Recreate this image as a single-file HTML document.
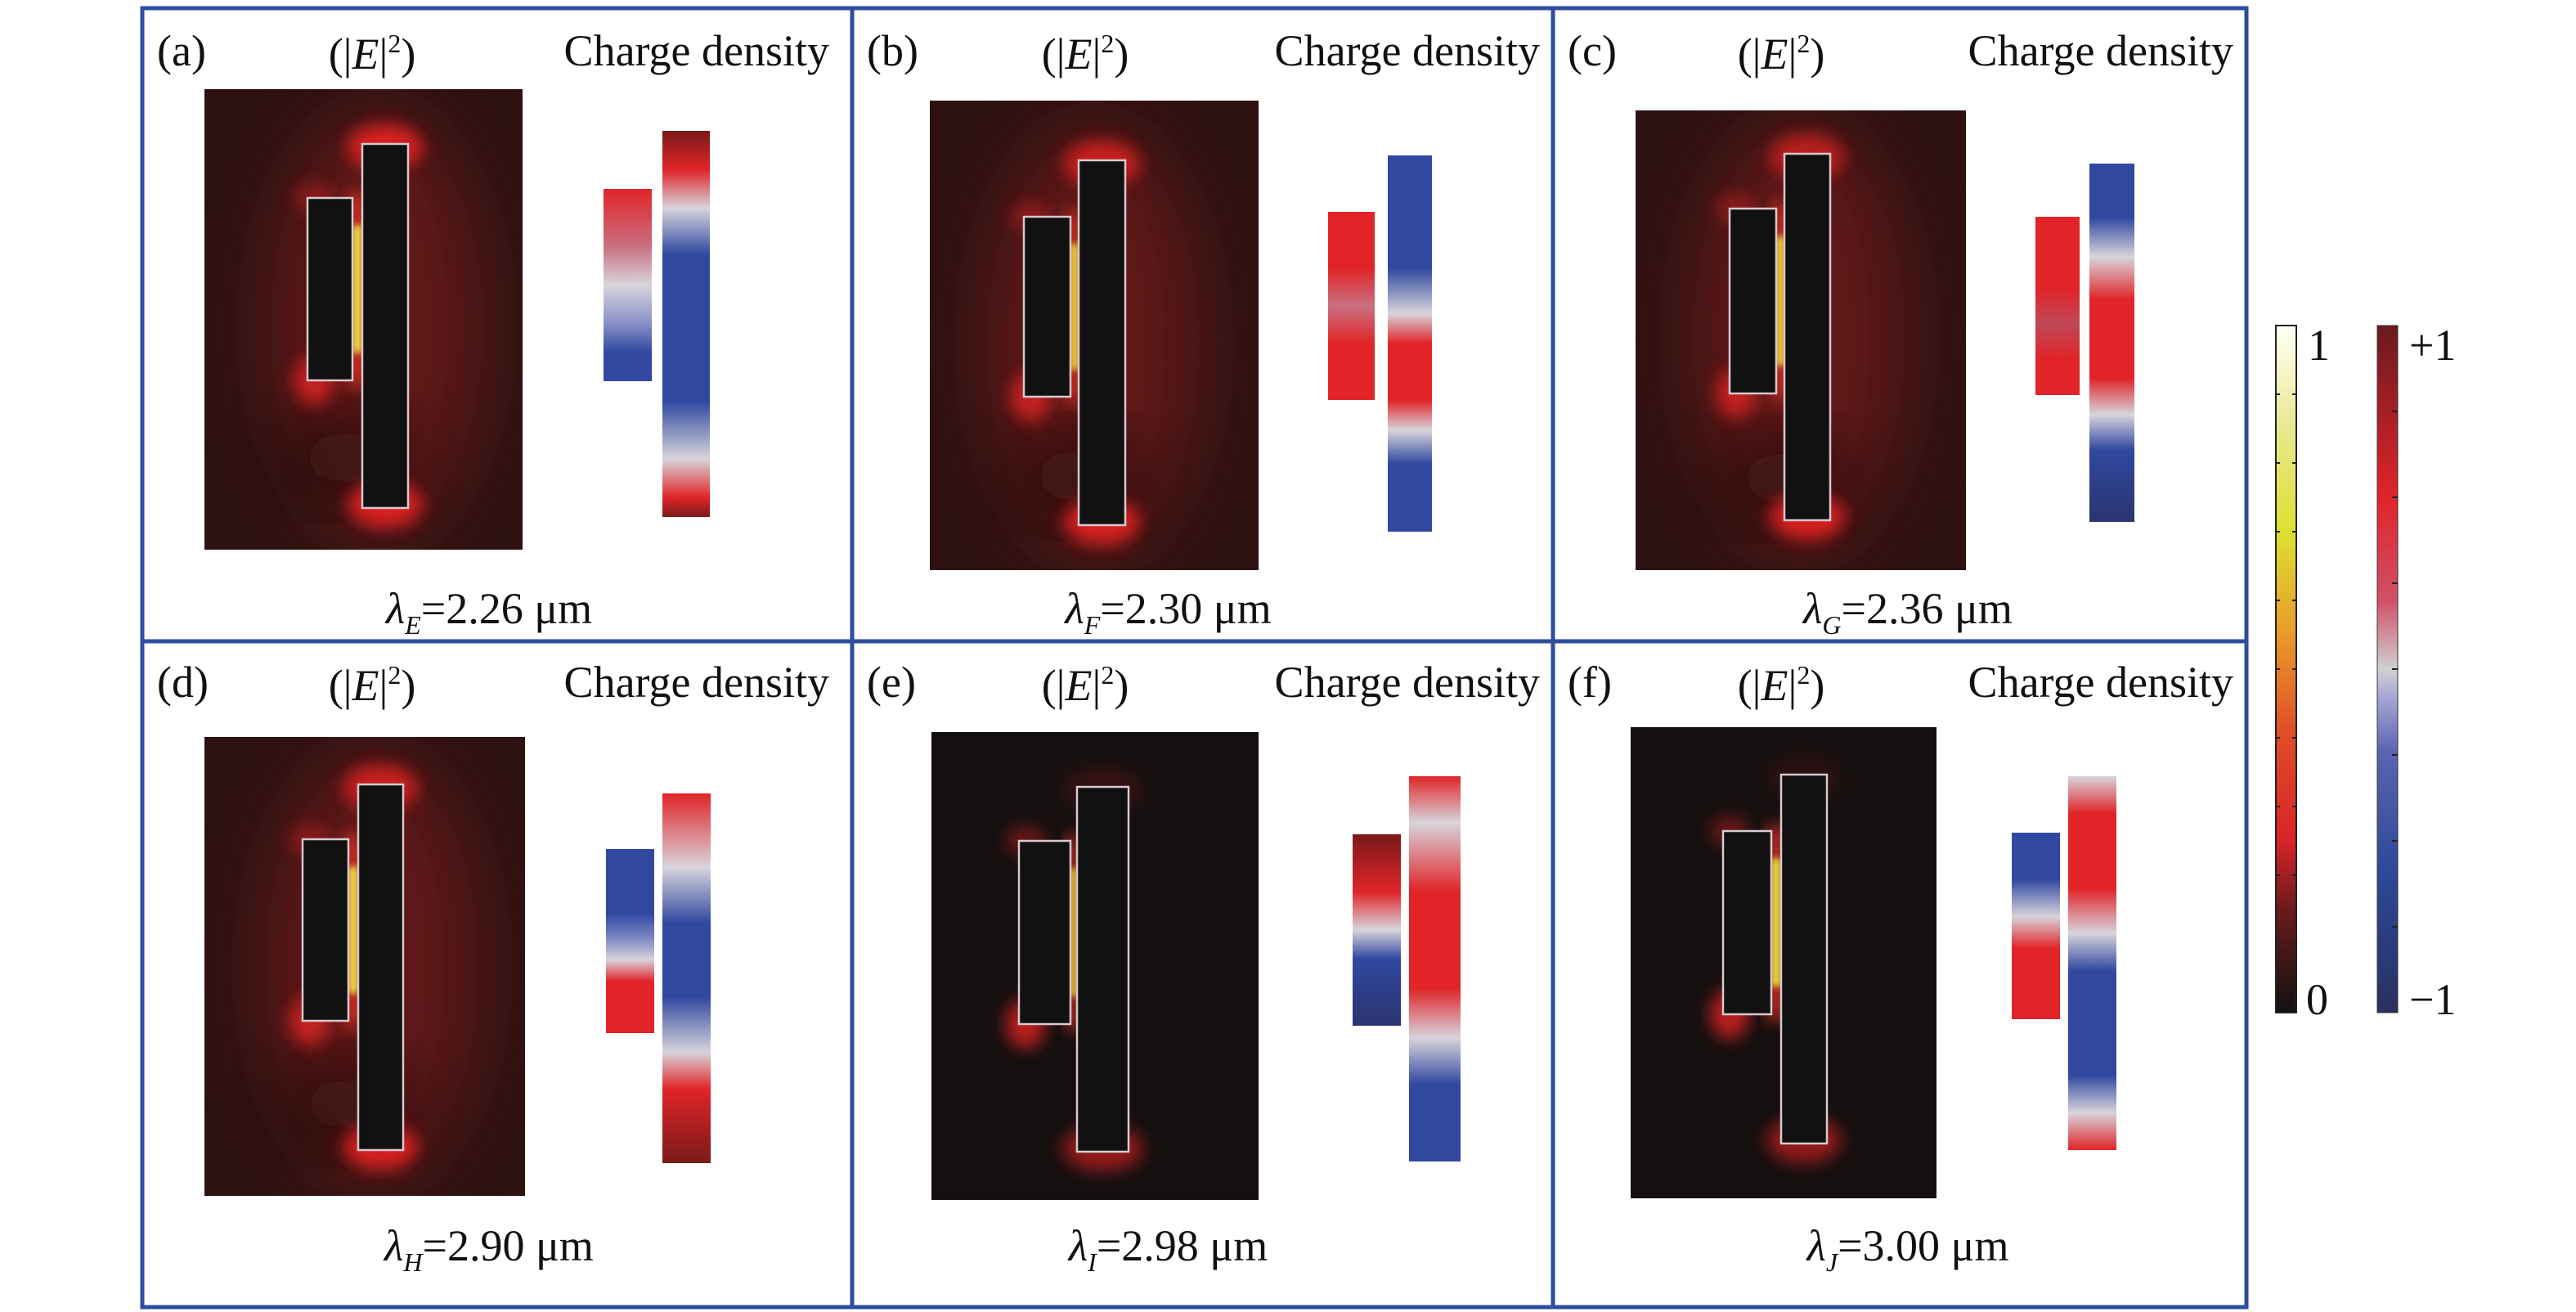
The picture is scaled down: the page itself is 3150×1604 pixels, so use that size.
<!DOCTYPE html>
<html><head><meta charset="utf-8"><style>
html,body{margin:0;padding:0;background:#fff;}
svg{display:block;font-family:"Liberation Serif",serif;}
</style></head><body>
<svg id="fig" width="3150" height="1604" viewBox="0 0 3150 1604" xmlns="http://www.w3.org/2000/svg">
<defs>
<filter id="blurS" x="-50%" y="-50%" width="200%" height="200%"><feGaussianBlur stdDeviation="10"/></filter>
<filter id="blurL" x="-50%" y="-50%" width="200%" height="200%"><feGaussianBlur stdDeviation="45"/></filter>
<filter id="blurT" x="-50%" y="-50%" width="200%" height="200%"><feGaussianBlur stdDeviation="4"/></filter>
<linearGradient id="cbHeat" x1="0" y1="1" x2="0" y2="0">
<stop offset="0" stop-color="#111"/><stop offset="0.15" stop-color="#6a1a1a"/><stop offset="0.25" stop-color="#d82428"/><stop offset="0.4" stop-color="#e04a28"/><stop offset="0.55" stop-color="#e89a2a"/><stop offset="0.7" stop-color="#dde030"/><stop offset="0.85" stop-color="#e8e890"/><stop offset="1" stop-color="#fffff6"/></linearGradient>
<linearGradient id="cbCharge" x1="0" y1="1" x2="0" y2="0">
<stop offset="0" stop-color="#2a3060"/><stop offset="0.2" stop-color="#2c4898"/><stop offset="0.38" stop-color="#5a64b0"/><stop offset="0.46" stop-color="#a8a8d6"/><stop offset="0.5" stop-color="#d0d0d0"/><stop offset="0.6" stop-color="#d05068"/><stop offset="0.75" stop-color="#e02428"/><stop offset="1" stop-color="#6a1a20"/></linearGradient>
</defs>
<g id="panels"></g>
</svg>
<script>
const NS="http://www.w3.org/2000/svg";
// panel data
const panelLetters=["(a)","(b)","(c)","(d)","(e)","(f)"];
const waveSubs=["E","F","G","H","I","J"];
const waveValues=["2.26","2.30","2.36","2.90","2.98","3.00"];
const darkBg=[false,false,false,false,true,true];
const topGlow=[0.9,0.8,0.7,0.8,0.15,0.1];
const botGlow=[0.9,0.9,0.9,0.9,0.6,0.6];
// geometry (pixels, layout only)
const colX=[174,1042,1899,2747];
const rowY=[10,784,1598];
const heat=[[250,109,389,563],[1137,123,402,574],[2000,135,404,562],[250,901,392,561],[1139,895,400,572],[1994,889,374,576]];
const bigR=[[443,176,56,445],[1319,196,57,446],[2182,188,56,448],[438,959,55,447],[1317,962,63,446],[2178,947,56,451]];
const smallR=[[376,242,55,223],[1252,265,57,220],[2115,255,57,226],[370,1026,56,222],[1246,1028,63,224],[2107,1016,59,224]];
const csSmall=[[738,231,59,235],[1624,259,57,230],[2489,265,54,218],[741,1038,59,225],[1654,1020,59,234],[2460,1018,59,228]];
const csBig=[[810,160,58,472],[1697,190,54,460],[2555,200,55,438],[810,970,59,452],[1723,949,63,471],[2529,949,59,457]];
const titleX=[455,1327,2178,455,1327,2178];
const chargeRight=[1014,1883,2731,1014,1883,2731];
const R="#e02428",W="#d8d4dc",B="#3048a0",DB="#2a3470",DR="#7a1a1a",P="#c87080",LB="#8890c8";
const smallStops=[[[0,R],[0.3,P],[0.5,W],[0.7,LB],[0.85,B],[1,B]],[[0,R],[0.3,R],[0.5,P],[0.7,R],[1,R]],[[0,R],[0.4,R],[0.6,"#c04858"],[0.8,R],[1,R]],[[0,B],[0.35,B],[0.5,LB],[0.6,W],[0.72,R],[1,R]],[[0,DR],[0.3,R],[0.5,W],[0.65,B],[1,DB]],[[0,B],[0.25,B],[0.45,W],[0.62,R],[1,R]]];
const bigStops=[[[0,DR],[0.1,R],[0.2,W],[0.32,B],[0.7,B],[0.85,W],[0.95,R],[1,DR]],[[0,B],[0.3,B],[0.42,W],[0.5,R],[0.65,R],[0.73,W],[0.82,B],[1,B]],[[0,B],[0.15,B],[0.26,W],[0.38,R],[0.6,R],[0.7,W],[0.8,B],[1,DB]],[[0,R],[0.2,W],[0.35,B],[0.55,B],[0.7,W],[0.8,R],[1,DR]],[[0,R],[0.12,W],[0.3,R],[0.55,R],[0.68,W],[0.8,B],[1,B]],[[0,W],[0.1,R],[0.3,R],[0.42,W],[0.52,B],[0.8,B],[0.9,W],[1,R]]];

const root=document.getElementById('panels');
const defs=document.querySelector('defs');
function el(tag,attrs,parent){const e=document.createElementNS(NS,tag);for(const k in attrs)e.setAttribute(k,attrs[k]);(parent||root).appendChild(e);return e;}
function grad(id,stops){const g=el('linearGradient',{id:id,x1:0,y1:0,x2:0,y2:1},defs);stops.forEach(s=>el('stop',{offset:s[0],'stop-color':s[1]},g));}

const frame=el('g',{});


el('rect',{x:colX[0],y:rowY[0],width:colX[3]-colX[0],height:rowY[2]-rowY[0],fill:'none',stroke:'#2f4d9e','stroke-width':5},frame);
el('line',{x1:colX[1],y1:rowY[0],x2:colX[1],y2:rowY[2],stroke:'#2f4d9e','stroke-width':5},frame);
el('line',{x1:colX[2],y1:rowY[0],x2:colX[2],y2:rowY[2],stroke:'#2f4d9e','stroke-width':5},frame);
el('line',{x1:colX[0],y1:rowY[1],x2:colX[3],y2:rowY[1],stroke:'#2f4d9e','stroke-width':5},frame);

for(let i=0;i<6;i++){
  const c=i%3,r=Math.floor(i/3);
  const px=colX[c],py=rowY[r];
  const g=el('g',{});
  
  
  const ty=py+(r==0?70:68);
  const t1=el('text',{x:px+18,y:ty,'font-size':54,fill:'#111'},g);t1.textContent=panelLetters[i];
  
  
  const t2=el('text',{x:titleX[i],y:ty+4,'font-size':54,fill:'#111','text-anchor':'middle'},g);
  t2.innerHTML='(|<tspan font-style="italic">E</tspan>|<tspan font-size="32" dy="-20">2</tspan><tspan dy="20">)</tspan>';
  
  
  const t3=el('text',{x:chargeRight[i],y:ty,'font-size':54,fill:'#111','text-anchor':'end'},g);t3.textContent='Charge density';
  
  
  const h=heat[i],bR=bigR[i],sR=smallR[i];
  const cid='clip'+i;
  const cp=el('clipPath',{id:cid},defs);el('rect',{x:h[0],y:h[1],width:h[2],height:h[3]},cp);
  const hm=el('g',{'clip-path':'url(#'+cid+')'},g);
  
  
  el('rect',{x:h[0],y:h[1],width:h[2],height:h[3],fill:darkBg[i]?'#151010':'#2e1212'},hm);
  if(!darkBg[i]){
    el('ellipse',{cx:bR[0]+bR[2]/2-10,cy:bR[1]+bR[3]/2,rx:130,ry:bR[3]/2+40,fill:'#8a1c1c',opacity:0.55,filter:'url(#blurL)'},hm);
    el('ellipse',{cx:h[0]+h[2]/2-20,cy:h[1]+h[3]*0.8,rx:70,ry:40,fill:'#100808',opacity:0.8,filter:'url(#blurL)'},hm);
  }
  el('ellipse',{cx:bR[0]+bR[2]/2,cy:bR[1]+4,rx:bR[2]/2+18,ry:28,fill:'#e82020',opacity:topGlow[i],filter:'url(#blurS)'},hm);
  el('ellipse',{cx:bR[0]+bR[2]/2,cy:bR[1]+bR[3]-4,rx:bR[2]/2+18,ry:28,fill:'#e82020',opacity:botGlow[i],filter:'url(#blurS)'},hm);
  [sR[1],sR[1]+sR[3]].forEach((yy,k)=>el('ellipse',{cx:sR[0]+8,cy:yy,rx:24,ry:k?30:18,fill:'#d82020',opacity:k?0.85:0.45,filter:'url(#blurS)'},hm));
  el('rect',{x:sR[0]+sR[2]-4,y:sR[1]-6,width:bR[0]-sR[0]-sR[2]+8,height:sR[3]+12,fill:'#e03020',filter:'url(#blurS)'},hm);
  el('rect',{x:sR[0]+sR[2],y:sR[1]+sR[3]*0.15,width:bR[0]-sR[0]-sR[2],height:sR[3]*0.7,fill:'#eae040',filter:'url(#blurT)'},hm);
  el('rect',{x:bR[0],y:bR[1],width:bR[2],height:bR[3],fill:'#111','stroke':'#d8c8d0','stroke-width':2.5},hm);
  el('rect',{x:sR[0],y:sR[1],width:sR[2],height:sR[3],fill:'#111','stroke':'#d8c8d0','stroke-width':2.5},hm);
  grad('gs'+i,smallStops[i]);grad('gb'+i,bigStops[i]);
  const s=csSmall[i],b=csBig[i];
  const r1=el('rect',{x:s[0],y:s[1],width:s[2],height:s[3],fill:'url(#gs'+i+')'},g);
  
  
  const r2=el('rect',{x:b[0],y:b[1],width:b[2],height:b[3],fill:'url(#gb'+i+')'},g);
  
  
  const lx=(px+colX[c+1])/2+(c==0?-10:(c==2?10:-42)), ly=py+(r==0?752:757);
  const wl=el('text',{x:lx,y:ly,'font-size':54,fill:'#111','text-anchor':'middle'},g);
  wl.innerHTML='<tspan font-style="italic">λ</tspan><tspan font-style="italic" font-size="32" dy="13">'+waveSubs[i]+'</tspan><tspan dy="-13">='+waveValues[i]+' μm</tspan>';
  
  
}
const cb1=el('rect',{x:2783,y:398,width:25,height:840,fill:'url(#cbHeat)',stroke:'#222','stroke-width':2});


const cb2=el('rect',{x:2907,y:398,width:25,height:840,fill:'url(#cbCharge)',stroke:'#333','stroke-width':1});


for(let k=1;k<10;k++){const yy=398+840*k/10;el('line',{x1:2783,y1:yy,x2:2788,y2:yy,stroke:'#222','stroke-width':2});el('line',{x1:2803,y1:yy,x2:2808,y2:yy,stroke:'#222','stroke-width':2});}
for(let k=1;k<8;k++){const yy=398+840*k/8;el('line',{x1:2925,y1:yy,x2:2932,y2:yy,stroke:'#222','stroke-width':2});}
[[2822,440,'1','field-max-label'],[2820,1240,'0','field-min-label'],[2946,440,'+1','charge-max-label'],[2946,1240,'−1','charge-min-label']].forEach(a=>{
  const t=el('text',{x:a[0],y:a[1],'font-size':54,fill:'#111'});t.textContent=a[2];
  
  
});
</script>
</body></html>
